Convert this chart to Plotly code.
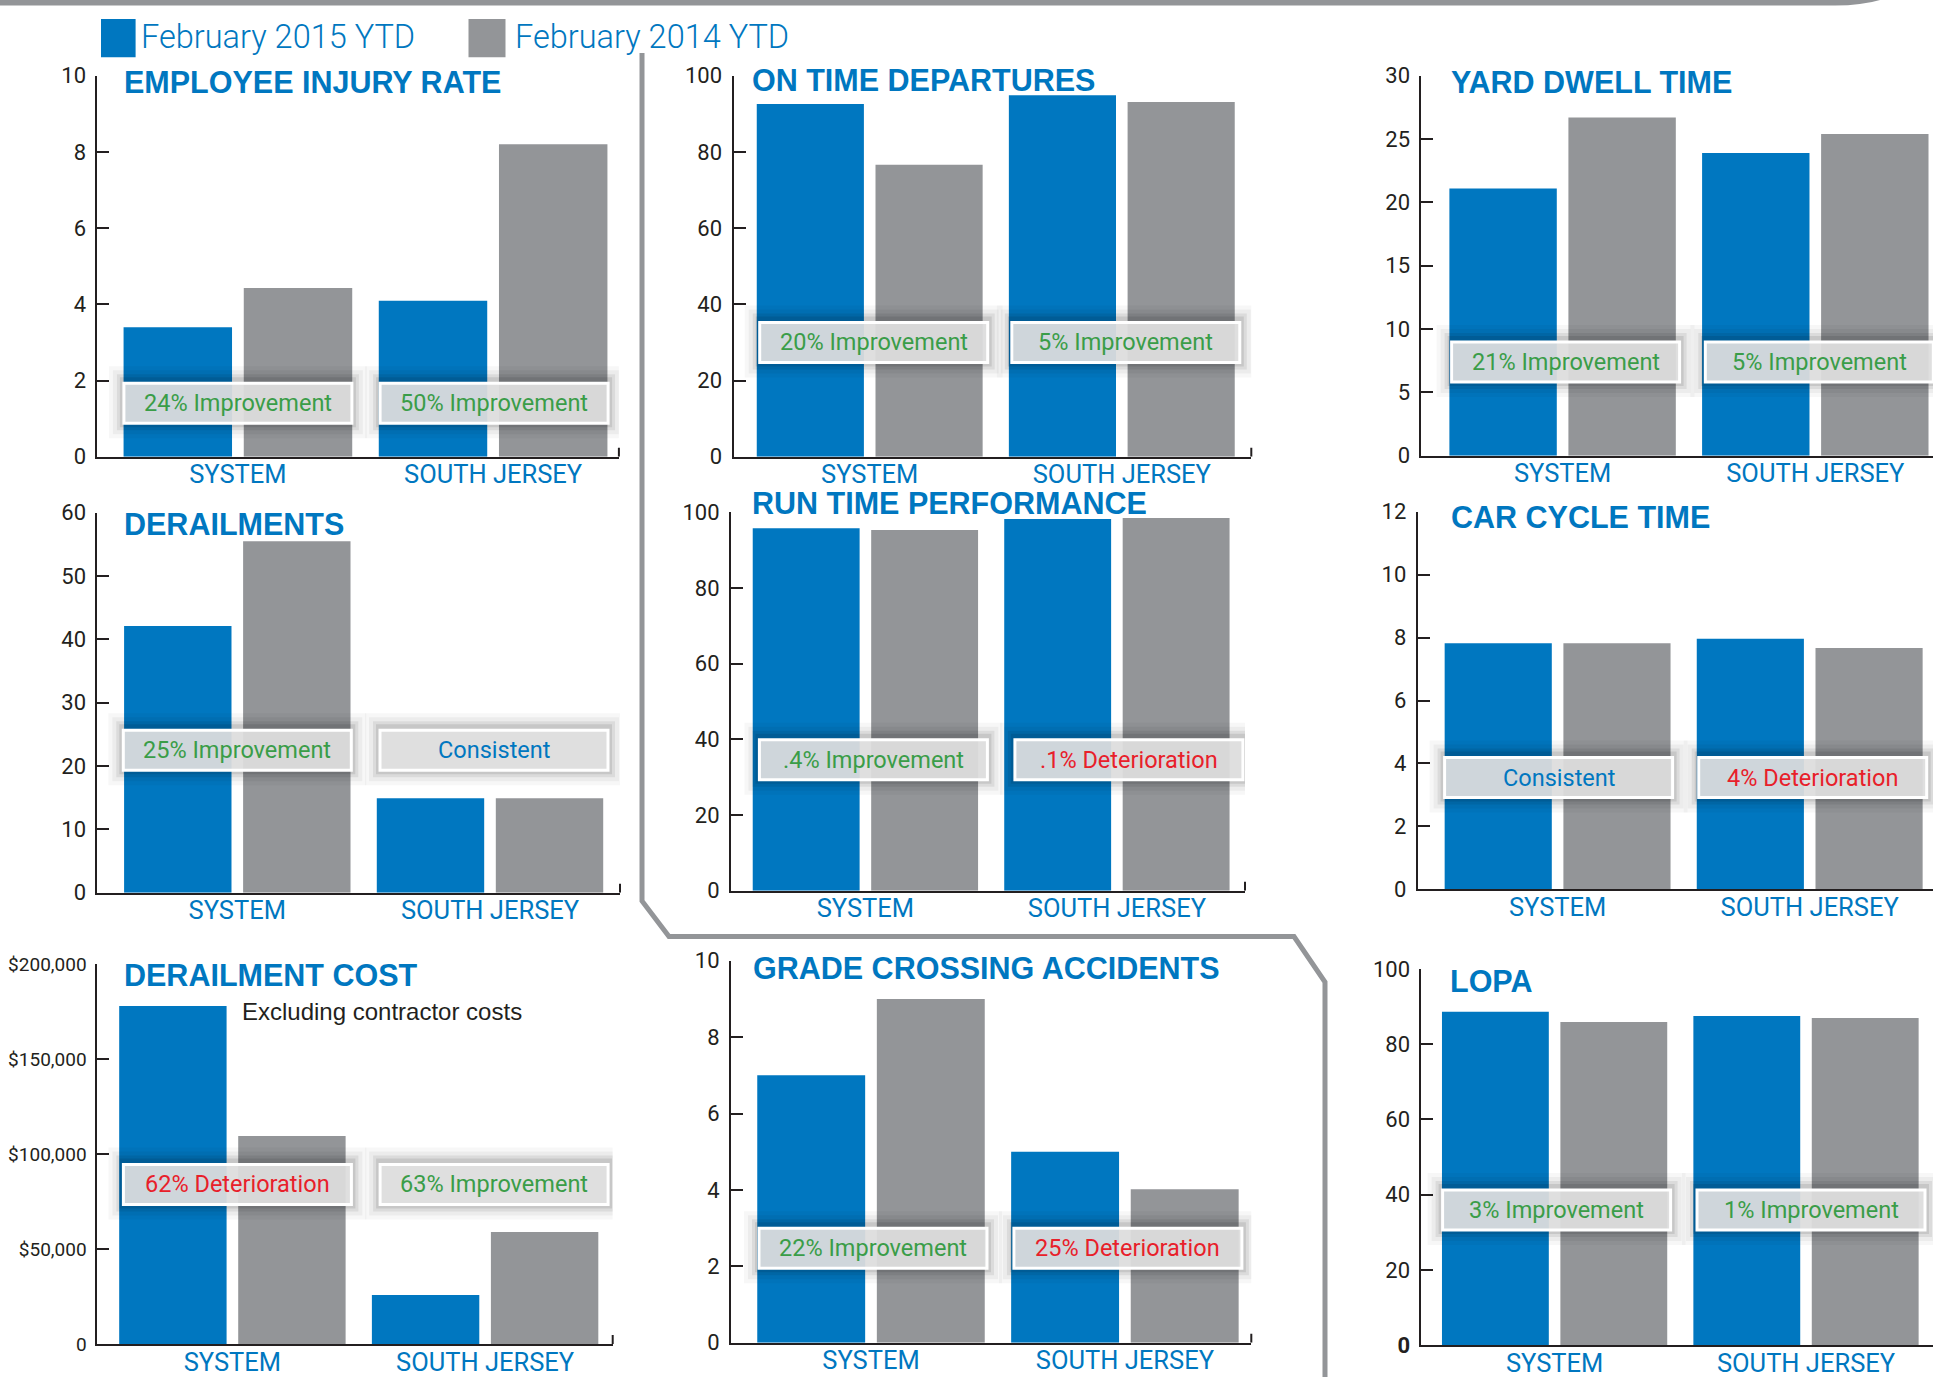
import plotly.graph_objects as go

W, H = 1933, 1377
BLUE = "#0077C0"
GREY = "#939598"
INK = "#231F20"
GREEN = "#3A9D48"
RED = "#E8202A"
NARROW = "Liberation Sans Narrow, Arial Narrow, Roboto, sans-serif"
WIDE = "Liberation Sans, Arial, sans-serif"

# ---------------- data ----------------
categories = ["SYSTEM", "SOUTH JERSEY"]
series_names = ["February 2015 YTD", "February 2014 YTD"]

titles = ["EMPLOYEE INJURY RATE", "ON TIME DEPARTURES", "YARD DWELL TIME",
          "DERAILMENTS", "RUN TIME PERFORMANCE", "CAR CYCLE TIME",
          "DERAILMENT COST", "GRADE CROSSING ACCIDENTS", "LOPA"]

feb2015 = [[3.4, 4.09], [92.6, 94.9], [21.1, 23.9],
           [42.1, 14.9], [95.8, 98.2], [7.82, 7.96],
           [177900, 25800], [7.0, 5.0], [88.6, 87.5]]
feb2014 = [[4.43, 8.2], [76.6, 93.1], [26.7, 25.4],
           [55.5, 14.9], [95.3, 98.5], [7.82, 7.67],
           [109500, 58900], [9.0, 4.02], [85.9, 87.0]]

y_max = [10, 100, 30, 60, 100, 12, 200000, 10, 100]
y_ticks = [[0, 2, 4, 6, 8, 10], [0, 20, 40, 60, 80, 100], [0, 5, 10, 15, 20, 25, 30],
           [0, 10, 20, 30, 40, 50, 60], [0, 20, 40, 60, 80, 100], [0, 2, 4, 6, 8, 10, 12],
           [0, 50000, 100000, 150000, 200000], [0, 2, 4, 6, 8, 10], [0, 20, 40, 60, 80, 100]]
y_ticktext = [None, None, None, None, None, None,
              ["0", "$50,000", "$100,000", "$150,000", "$200,000"], None,
              ["<b>0</b>", "20", "40", "60", "80", "100"]]

change_labels = [["24% Improvement", "50% Improvement"],
                 ["20% Improvement", "5% Improvement"],
                 ["21% Improvement", "5% Improvement"],
                 ["25% Improvement", "Consistent"],
                 [".4% Improvement", ".1% Deterioration"],
                 ["Consistent", "4% Deterioration"],
                 ["62% Deterioration", "63% Improvement"],
                 ["22% Improvement", "25% Deterioration"],
                 ["3% Improvement", "1% Improvement"]]
change_kind = [["up", "up"], ["up", "up"], ["up", "up"],
               ["up", "same"], ["up", "down"], ["same", "down"],
               ["down", "up"], ["up", "down"], ["up", "up"]]
label_level = [1.4, 30.0, 7.4, 22.5, 34.6, 3.55, 84000, 2.47, 35.9]

subtitle = "Excluding contractor costs"

# ---------------- layout geometry (pixels) ----------------
# axis-left, axis-right, group centre 1, group centre 2, top, bottom
geom = [
    (97.4, 618.9, 237.9, 493.1, 75.7, 456.7),
    (733.5, 1251.3, 869.7, 1121.8, 75.7, 456.7),
    (1421.4, 1933, 1562.6, 1815.3, 75.7, 455.7),
    (97.4, 620.0, 237.3, 490.0, 512.7, 892.7),
    (731.0, 1245.0, 865.4, 1116.9, 512.3, 890.7),
    (1417.7, 1933, 1557.6, 1809.7, 511.7, 889.3),
    (97.4, 612.7, 232.4, 485.1, 964.0, 1344.0),
    (731.0, 1251.3, 871.0, 1124.9, 960.7, 1342.7),
    (1421.4, 1933, 1554.6, 1806.0, 969.0, 1345.0),
]
title_pos = [(122, 81.7), (749.5, 80.5), (1448.5, 81.7),
             (122, 524), (749.5, 503), (1448.5, 517),
             (122, 975), (751, 968), (1447.5, 981)]
box_shift = [(0, 1), (4, 4), (3, 4), (0, 4), (8, 12), (1, 3), (5, 9), (2, 3), (2, 5)]

BW = 0.425
OFF_A = -0.448
OFF_B = 0.023

fig = go.Figure()
layout = {}
shapes = []
annotations = []
xs = list(range(len(categories)))

for k in range(9):
    n = k + 1
    xa = "x" if n == 1 else f"x{n}"
    ya = "y" if n == 1 else f"y{n}"
    xl, xr, c1, c2, yt, yb = geom[k]
    u = c2 - c1
    fig.add_trace(go.Bar(x=xs, y=feb2015[k], width=BW, offset=OFF_A,
                         marker=dict(color=BLUE, line=dict(width=0)),
                         name=series_names[0], xaxis=xa, yaxis=ya, showlegend=False))
    fig.add_trace(go.Bar(x=xs, y=feb2014[k], width=BW, offset=OFF_B,
                         marker=dict(color=GREY, line=dict(width=0)),
                         name=series_names[1], xaxis=xa, yaxis=ya, showlegend=False))
    xkey = "xaxis" if n == 1 else f"xaxis{n}"
    ykey = "yaxis" if n == 1 else f"yaxis{n}"
    layout[xkey] = dict(domain=[xl / W, xr / W],
                        range=[(xl - c1) / u, 1 + (xr - c2) / u],
                        anchor=ya, tickmode="array", tickvals=xs, ticktext=categories,
                        showline=True, linecolor=INK, linewidth=2, ticks="",
                        showgrid=False, zeroline=False, fixedrange=True, automargin=False,
                        ticklabelstandoff=-6,
                        tickfont=dict(family=NARROW, size=25.5, color=BLUE))
    yd = dict(domain=[1 - yb / H, 1 - yt / H], range=[0, y_max[k]], anchor=xa,
              tickmode="array", tickvals=y_ticks[k],
              ticks="inside", ticklen=12, tickwidth=2, tickcolor=INK,
              showline=True, linecolor=INK, linewidth=2, automargin=False,
              showgrid=False, zeroline=False, fixedrange=True, ticklabelstandoff=5,
              tickfont=dict(family=NARROW, size=19 if k == 6 else 22, color=INK))
    if y_ticktext[k] is not None:
        yd["ticktext"] = y_ticktext[k]
    else:
        yd["ticktext"] = [str(v) for v in y_ticks[k]]
    layout[ykey] = yd

    # small end tick on the category axis
    if xr < W - 1:
        shapes.append(dict(type="line", xref=f"{xa} domain", x0=1, x1=1,
                           yref=ya, ysizemode="pixel", yanchor=0, y0=0, y1=9,
                           line=dict(color=INK, width=2)))

    # change boxes
    for i in xs:
        cx = i + box_shift[k][i] / u
        lv = label_level[k]
        for p, a in [(15, 0.03), (11, 0.045), (7, 0.07), (4, 0.09)]:
            shapes.append(dict(type="rect", xref=xa, yref=ya,
                               xsizemode="pixel", xanchor=cx, x0=-(114 + p), x1=114 + p,
                               ysizemode="pixel", yanchor=lv, y0=-(20 + p), y1=20 + p + 2,
                               fillcolor=f"rgba(0,0,0,{a})", line=dict(width=0)))
        shapes.append(dict(type="rect", xref=xa, yref=ya,
                           xsizemode="pixel", xanchor=cx, x0=-114, x1=114,
                           ysizemode="pixel", yanchor=lv, y0=-20, y1=20,
                           fillcolor="rgba(225,225,225,0.92)",
                           line=dict(color="white", width=3)))
        kind = change_kind[k][i]
        col = GREEN if kind == "up" else (RED if kind == "down" else BLUE)
        annotations.append(dict(xref=xa, yref=ya, x=cx, y=lv, text=change_labels[k][i],
                                showarrow=False, xanchor="center", yanchor="middle",
                                font=dict(family=NARROW, size=23.5, color=col)))

    tx, ty = title_pos[k]
    annotations.append(dict(xref="paper", yref="paper", x=tx / W, y=1 - ty / H,
                            text=f"<b>{titles[k]}</b>", showarrow=False,
                            xanchor="left", yanchor="middle",
                            font=dict(family=WIDE, size=30.5, color=BLUE)))

annotations.append(dict(xref="paper", yref="paper", x=240 / W, y=1 - 1011 / H,
                        text=subtitle, showarrow=False, xanchor="left", yanchor="middle",
                        font=dict(family=WIDE, size=24, color=INK)))

# legend (manual)
for (sx0, sx1, tx), col, name in [((101, 135.6, 138.5), BLUE, series_names[0]),
                                  ((468.5, 505.5, 513), GREY, series_names[1])]:
    shapes.append(dict(type="rect", xref="paper", yref="paper",
                       x0=sx0 / W, x1=sx1 / W, y0=1 - 57.3 / H, y1=1 - 19 / H,
                       fillcolor=col, line=dict(width=0)))
    annotations.append(dict(xref="paper", yref="paper", x=tx / W, y=1 - 37 / H,
                            text=name, showarrow=False, xanchor="left", yanchor="middle",
                            font=dict(family="Roboto", size=32.5, color=BLUE, weight=300)))


# decorative frame lines
def pth(pts):
    s = ""
    for j, (px, py) in enumerate(pts):
        s += ("M" if j == 0 else "L") + f"{px / W:.5f},{1 - py / H:.5f} "
    return s


shapes.append(dict(type="path", xref="paper", yref="paper", layer="below",
                   path=pth([(642, 53), (642, 901), (669, 936.5), (1294, 936.5),
                             (1325, 982), (1325, 1380)]),
                   line=dict(color=GREY, width=5)))
shapes.append(dict(type="path", xref="paper", yref="paper", layer="below",
                   path=f"M0,1 L{1880 / W:.5f},1 Q{1862 / W:.5f},{1 - 5.5 / H:.5f} {1835 / W:.5f},{1 - 5.5 / H:.5f} L0,{1 - 5.5 / H:.5f} Z",
                   fillcolor=GREY, line=dict(width=0)))

fig.update_layout(**layout)
fig.update_layout(width=W, height=H, margin=dict(l=0, r=0, t=0, b=0, pad=0, autoexpand=False),
                  paper_bgcolor="white", plot_bgcolor="white",
                  barmode="overlay", showlegend=False,
                  shapes=shapes, annotations=annotations)

fig.write_html("out.html", config={"displayModeBar": False})
